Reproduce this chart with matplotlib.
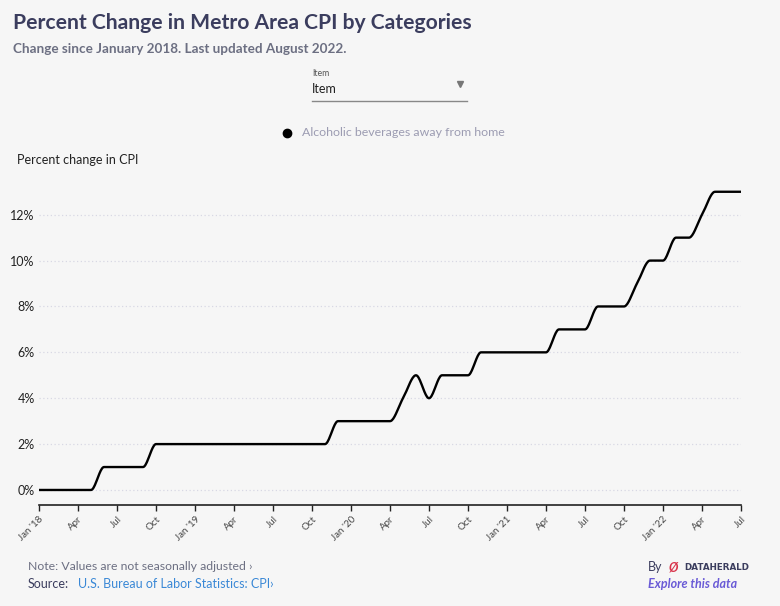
import numpy as np
import matplotlib
matplotlib.use("Agg")
import matplotlib.pyplot as plt
from matplotlib.lines import Line2D

# ---- data ----
values = [0, 0, 0, 0, 0, 1, 1, 1, 1, 2, 2, 2,          # 2018
          2, 2, 2, 2, 2, 2, 2, 2, 2, 2, 2, 3,          # 2019
          3, 3, 3, 3, 4, 5, 4, 5, 5, 5, 6, 6,          # 2020
          6, 6, 6, 6, 7, 7, 7, 8, 8, 8, 9, 10,         # 2021
          10, 11, 11, 12, 13, 13, 13]                  # 2022 (Jan-Jul)
tick_labels = ["Jan '18", "Apr", "Jul", "Oct",
               "Jan '19", "Apr", "Jul", "Oct",
               "Jan '20", "Apr", "Jul", "Oct",
               "Jan '21", "Apr", "Jul", "Oct",
               "Jan '22", "Apr", "Jul"]
y_ticks = [0, 2, 4, 6, 8, 10, 12]
series_name = "Alcoholic beverages away from home"


def monotone_x(x, y, n=20):
    """d3 curveMonotoneX style interpolation."""
    x = np.asarray(x, float)
    y = np.asarray(y, float)
    m = len(x)
    h = np.diff(x)
    s = np.diff(y) / h
    t = np.zeros(m)
    for i in range(1, m - 1):
        s0, s1 = s[i - 1], s[i]
        p = (s0 * h[i] + s1 * h[i - 1]) / (h[i - 1] + h[i])
        t[i] = (np.sign(s0) + np.sign(s1)) * min(abs(s0), abs(s1), 0.5 * abs(p))
    t[0] = (3 * s[0] - t[1]) / 2
    t[-1] = (3 * s[-1] - t[-2]) / 2
    xs, ys = [], []
    for i in range(m - 1):
        u = np.linspace(0, 1, n, endpoint=(i == m - 2))
        h00 = 2 * u**3 - 3 * u**2 + 1
        h10 = u**3 - 2 * u**2 + u
        h01 = -2 * u**3 + 3 * u**2
        h11 = u**3 - u**2
        xs.append(x[i] + u * h[i])
        ys.append(h00 * y[i] + h10 * h[i] * t[i] + h01 * y[i + 1] + h11 * h[i] * t[i + 1])
    return np.concatenate(xs), np.concatenate(ys)


plt.rcParams['font.family'] = ['Lato', 'DejaVu Sans']
BG = "#f6f6f6"
W, H = 780, 606
fig = plt.figure(figsize=(W / 100, H / 100), dpi=100, facecolor=BG)

# axes placement in pixels
x0, x1 = 39, 741
yb, yt = 505, 178
ax = fig.add_axes([x0 / W, 1 - yb / H, (x1 - x0) / W, (yb - yt) / H])
ax.set_facecolor(BG)

xi = np.arange(len(values))
sx, sy = monotone_x(xi, values)
ax.plot(sx, sy, color="black", lw=1.7, solid_capstyle="round", zorder=3)

ax.set_xlim(0, len(values) - 1)
ax.set_ylim(-0.655, 13.6)
ax.set_yticks(y_ticks)
ax.set_yticklabels([f"{v}%" for v in y_ticks], fontsize=9, color="#222222")
ax.tick_params(axis="y", length=0, pad=3)
for v in y_ticks:
    ax.axhline(v, color="#d8d8e4", lw=0.9, ls=(0, (1, 2)), zorder=1)

ax.set_xticks(np.arange(0, len(values), 3))
ax.set_xticklabels(tick_labels, rotation=45, ha="right", rotation_mode="anchor",
                   fontsize=7, color="#444444")
ax.tick_params(axis="x", length=4.5, width=1, color="#222222", pad=2.5)

for sp in ["top", "right", "left"]:
    ax.spines[sp].set_visible(False)
ax.spines["bottom"].set_color("#222222")
ax.spines["bottom"].set_linewidth(1.2)

# ---- texts ----
def T(x, y, s, **kw):
    fig.text(x / W, 1 - y / H, s, **kw)

T(13, 23, "Percent Change in Metro Area CPI by Categories", fontsize=15.2,
  fontweight="bold", color="#3b3d5e", va="center")
T(13, 49, "Change since January 2018. Last updated August 2022.", fontsize=9.7,
  fontweight="bold", color="#6c6f82", va="center")

# dropdown
T(312, 73, "Item", fontsize=6.3, color="#555555", va="center")
T(312, 89, "Item", fontsize=9, color="#222222", va="center")
fig.add_artist(Line2D([312 / W, 467 / W], [1 - 101 / H, 1 - 101 / H], color="#888888", lw=1))
fig.add_artist(Line2D([460 / W], [1 - 84 / H], marker="v", color="#777777", markersize=4, ls=""))

# legend
fig.add_artist(Line2D([287 / W], [1 - 133 / H], marker="o", color="black", markersize=6, ls=""))
T(302, 133, series_name, fontsize=8.9, color="#9c9cb2", va="center")

T(17, 160, "Percent change in CPI", fontsize=9, color="#222222", va="center")

# footer
T(28, 566, "Note: Values are not seasonally adjusted \u203a", fontsize=8.8, color="#6c6f82", va="center")
T(28, 584, "Source:", fontsize=9, color="#3b3d5e", va="center")
T(78, 584, "U.S. Bureau of Labor Statistics: CPI\u203a", fontsize=9, color="#3a88d6", va="center")
T(648, 567, "By", fontsize=9, color="#3b3d5e", va="center")
T(669, 567, "\u00d8", fontsize=9, color="#d8324a", va="center", fontweight="bold", style="italic")
T(684, 567, "DATAHERALD", fontsize=6.3, color="#3b3d5e", va="center", fontweight="bold",
  family="DejaVu Sans")
T(648, 584, "Explore this data", fontsize=9, color="#6a5bd6", va="center",
  fontweight="bold", style="italic")

fig.savefig("out.png", dpi=100, facecolor=BG)
